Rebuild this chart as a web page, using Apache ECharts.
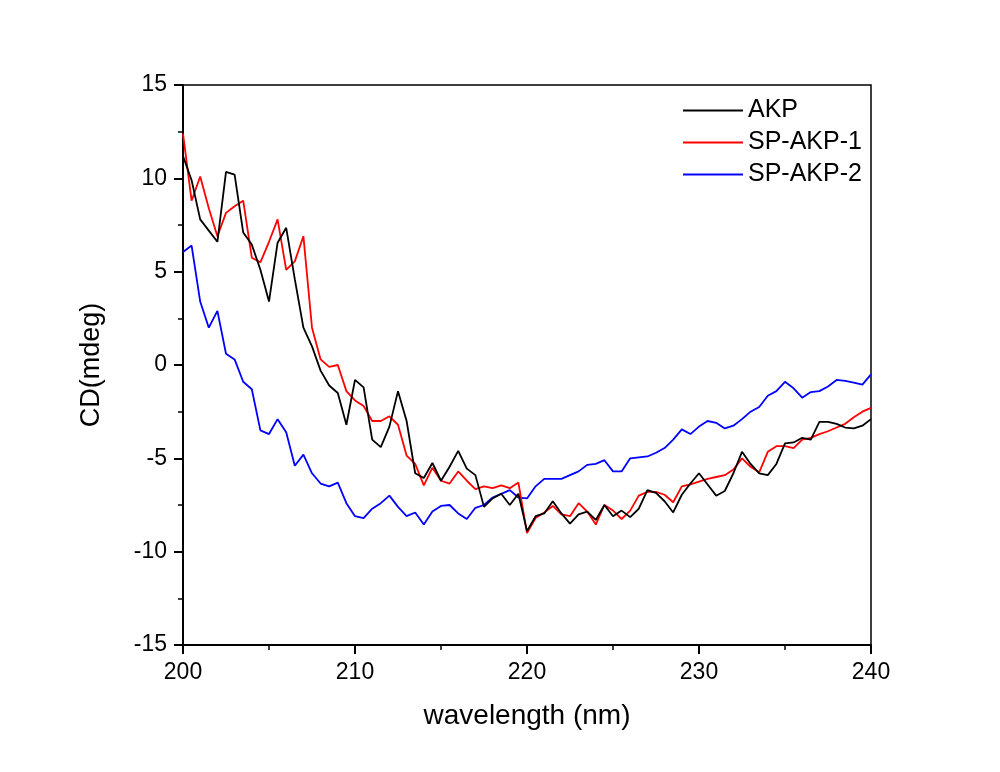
<!DOCTYPE html>
<html>
<head>
<meta charset="utf-8">
<title>CD spectra</title>
<script src="https://cdn.jsdelivr.net/npm/echarts@6/dist/echarts.min.js"></script>
<style>
  html, body { margin: 0; padding: 0; background: #fff; }
  #chart { width: 1000px; height: 772px; }
</style>
</head>
<body>
<div id="chart"></div>
<script>
// wavelength grid (nm), one reading every 0.5 nm
const wavelength = [
  200, 200.5, 201, 201.5, 202, 202.5, 203, 203.5, 204, 204.5,
  205, 205.5, 206, 206.5, 207, 207.5, 208, 208.5, 209, 209.5,
  210, 210.5, 211, 211.5, 212, 212.5, 213, 213.5, 214, 214.5,
  215, 215.5, 216, 216.5, 217, 217.5, 218, 218.5, 219, 219.5,
  220, 220.5, 221, 221.5, 222, 222.5, 223, 223.5, 224, 224.5,
  225, 225.5, 226, 226.5, 227, 227.5, 228, 228.5, 229, 229.5,
  230, 230.5, 231, 231.5, 232, 232.5, 233, 233.5, 234, 234.5,
  235, 235.5, 236, 236.5, 237, 237.5, 238, 238.5, 239, 239.5,
  240
]

const akp = [
  11.2, 9.9, 7.8, 7.2, 6.6, 10.35, 10.2, 7.1, 6.45, 5.1,
  3.4, 6.55, 7.35, 4.6, 2.0, 1.0, -0.3, -1.1, -1.5, -3.2,
  -0.8, -1.2, -4.0, -4.4, -3.3, -1.4, -3.0, -5.8, -6.05, -5.25,
  -6.2, -5.45, -4.6, -5.55, -5.9, -7.6, -7.15, -6.9, -7.5, -6.9,
  -8.9, -8.1, -7.95, -7.3, -7.95, -8.5, -8.0, -7.85, -8.3, -7.5,
  -8.1, -7.8, -8.15, -7.7, -6.7, -6.85, -7.3, -7.9, -6.95, -6.35,
  -5.8, -6.4, -7.0, -6.75, -5.8, -4.65, -5.3, -5.8, -5.9, -5.3,
  -4.2, -4.15, -3.9, -4.0, -3.05, -3.05, -3.15, -3.35, -3.4, -3.25,
  -2.9
]

const spAkp1 = [
  12.4, 8.8, 10.1, 8.4, 6.9, 8.15, 8.5, 8.8, 5.75, 5.5,
  6.6, 7.8, 5.1, 5.55, 6.9, 2.0, 0.3, -0.1, 0.0, -1.4,
  -1.9, -2.2, -3.0, -3.0, -2.75, -3.2, -4.85, -5.3, -6.45, -5.5,
  -6.2, -6.35, -5.7, -6.2, -6.65, -6.5, -6.6, -6.45, -6.6, -6.3,
  -9.0, -8.2, -7.9, -7.55, -8.0, -8.1, -7.4, -7.85, -8.55, -7.5,
  -7.8, -8.25, -7.8, -7.0, -6.8, -6.8, -6.95, -7.35, -6.5, -6.4,
  -6.25, -6.1, -6.0, -5.9, -5.6, -5.0, -5.45, -5.75, -4.65, -4.35,
  -4.35, -4.45, -4.0, -3.9, -3.7, -3.55, -3.35, -3.15, -2.8, -2.5,
  -2.3
]

const spAkp2 = [
  6.05, 6.4, 3.4, 2.0, 2.9, 0.6, 0.3, -0.9, -1.3, -3.5,
  -3.7, -2.9, -3.6, -5.4, -4.8, -5.8, -6.35, -6.5, -6.3, -7.4,
  -8.1, -8.2, -7.7, -7.4, -7.0, -7.6, -8.1, -7.9, -8.55, -7.85,
  -7.55, -7.5, -7.95, -8.25, -7.65, -7.5, -7.1, -6.9, -6.7, -7.1,
  -7.15, -6.5, -6.1, -6.1, -6.1, -5.9, -5.7, -5.35, -5.3, -5.1,
  -5.7, -5.7, -5.0, -4.95, -4.9, -4.7, -4.45, -4.0, -3.45, -3.7,
  -3.3, -3.0, -3.1, -3.4, -3.25, -2.9, -2.5, -2.25, -1.65, -1.4,
  -0.9, -1.25, -1.75, -1.45, -1.4, -1.15, -0.8, -0.85, -0.95, -1.05,
  -0.5
]

const seriesNames = ['AKP', 'SP-AKP-1', 'SP-AKP-2']
const seriesColors = ['#000000', '#ff0000', '#0000ff']
const seriesData = [akp, spAkp1, spAkp2]

const font = 'Liberation Sans, Arial, sans-serif'

function pairs (ys) {
  return wavelength.map((x, i) => [x, ys[i]])
}

let myChart = echarts.init(document.getElementById('chart'), null, { renderer: 'canvas' })

let option = {
  animation: false,
  backgroundColor: '#ffffff',
  grid: {
    left: 183,
    right: 129,
    top: 85,
    bottom: 127,
    show: true,
    borderColor: '#000',
    borderWidth: 1.5,
    backgroundColor: 'transparent'
  },
  legend: {
    orient: 'vertical',
    left: 678,
    top: 93,
    itemWidth: 60,
    itemHeight: 2,
    itemGap: 7,
    icon: 'rect',
    textStyle: { fontFamily: font, fontSize: 25, color: '#000' },
    data: seriesNames
  },
  xAxis: {
    type: 'value',
    min: 200,
    max: 240,
    interval: 10,
    name: 'wavelength (nm)',
    nameLocation: 'middle',
    nameGap: 57,
    nameTextStyle: { fontFamily: font, fontSize: 28, color: '#000' },
    axisLine: { show: true, onZero: false, lineStyle: { color: '#000', width: 2 } },
    axisTick: { show: true, inside: false, length: 9, lineStyle: { color: '#000', width: 2 } },
    minorTick: { show: true, splitNumber: 2, length: 5, lineStyle: { color: '#000', width: 1.5 } },
    axisLabel: { fontFamily: font, fontSize: 23, color: '#000', margin: 16 },
    splitLine: { show: false }
  },
  yAxis: {
    type: 'value',
    min: -15,
    max: 15,
    interval: 5,
    name: 'CD(mdeg)',
    nameLocation: 'middle',
    nameGap: 78,
    nameTextStyle: { fontFamily: font, fontSize: 27, color: '#000' },
    axisLine: { show: true, onZero: false, lineStyle: { color: '#000', width: 2 } },
    axisTick: { show: true, inside: false, length: 9, lineStyle: { color: '#000', width: 2 } },
    minorTick: { show: true, splitNumber: 2, length: 5, lineStyle: { color: '#000', width: 1.5 } },
    axisLabel: { fontFamily: font, fontSize: 23, color: '#000', margin: 16 },
    splitLine: { show: false }
  },
  series: seriesNames.map((name, k) => ({
    name: name,
    type: 'line',
    data: pairs(seriesData[k]),
    showSymbol: false,
    symbol: 'none',
    color: seriesColors[k],
    lineStyle: { color: seriesColors[k], width: 1.8 },
    z: 3 - k
  }))
}

myChart.setOption(option, true)
</script>
</body>
</html>
